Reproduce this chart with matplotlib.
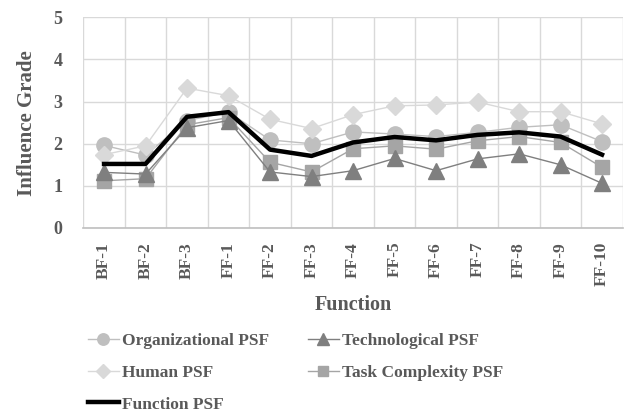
import matplotlib.pyplot as plt
import numpy as np

plt.rcParams['font.family'] = ['Liberation Serif', 'DejaVu Serif']
plt.rcParams['font.weight'] = 'bold'
plt.rcParams['axes.labelweight'] = 'bold'

# data
functions = ['BF-1', 'BF-2', 'BF-3', 'FF-1', 'FF-2', 'FF-3', 'FF-4',
             'FF-5', 'FF-6', 'FF-7', 'FF-8', 'FF-9', 'FF-10']
organizational = [1.96, 1.73, 2.55, 2.75, 2.09, 2.00, 2.28, 2.23, 2.17, 2.27, 2.39, 2.45, 2.05]
technological = [1.32, 1.28, 2.38, 2.55, 1.33, 1.22, 1.36, 1.65, 1.36, 1.64, 1.76, 1.50, 1.06]
human = [1.74, 1.95, 3.32, 3.14, 2.58, 2.36, 2.69, 2.90, 2.92, 2.99, 2.76, 2.76, 2.47]
task_complexity = [1.12, 1.17, 2.45, 2.62, 1.56, 1.33, 1.88, 1.95, 1.87, 2.07, 2.17, 2.03, 1.44]
function_psf = [1.52, 1.52, 2.64, 2.75, 1.86, 1.71, 2.03, 2.16, 2.08, 2.21, 2.27, 2.17, 1.74]

TEXT = '#595959'

fig = plt.figure(figsize=(6.31, 4.13), dpi=100)
ax = fig.add_axes([0.132, 0.448, 0.855, 0.51])

x = np.arange(len(functions))

h_org, = ax.plot(x, organizational, color='#BFBFBF', lw=1, marker='o', ms=11,
                 label='Organizational PSF', zorder=3)
h_hum, = ax.plot(x, human, color='#D9D9D9', lw=1, marker='D', ms=9,
                 label='Human PSF', zorder=3)
h_task, = ax.plot(x, task_complexity, color='#A5A5A5', lw=1, marker='s', ms=10,
                  label='Task Complexity PSF', zorder=4)
h_tech, = ax.plot(x, technological, color='#7F7F7F', lw=1, marker='^', ms=11,
                  label='Technological PSF', zorder=4)
h_fun, = ax.plot(x, function_psf, color='black', lw=3.2, label='Function PSF', zorder=5)

ax.set_xlim(-0.5, len(functions) - 0.5)
ax.set_ylim(0, 5)
ax.set_yticks(range(6))
ax.set_xticks(x)
ax.set_xticklabels(functions, rotation=90, fontsize=12.5, color=TEXT)
ax.set_xticks(np.arange(-0.5, len(functions)), minor=True)
ax.tick_params(axis='y', labelsize=13, colors=TEXT, length=0, pad=15)
ax.tick_params(axis='x', which='both', length=0, pad=10)
ax.grid(axis='x', which='minor', color='#D9D9D9', lw=1)
ax.grid(axis='y', which='major', color='#D9D9D9', lw=1)
ax.set_axisbelow(True)
for s in ['top', 'right', 'left']:
    ax.spines[s].set_visible(False)
ax.spines['bottom'].set_color('#BFBFBF')
ax.spines['bottom'].set_linewidth(1.2)

ax.set_ylabel('Influence Grade', fontsize=15, color=TEXT, labelpad=12)
ax.set_xlabel('Function', fontsize=14.5, color=TEXT, labelpad=6)

leg = fig.legend(handles=[h_org, h_hum, h_fun, h_tech, h_task], ncol=2,
                 loc='upper left', bbox_to_anchor=(0.128, 0.211), frameon=False,
                 fontsize=12.5, handlelength=1.8, handletextpad=0.2, markerscale=0.75,
                 columnspacing=2.2, labelspacing=0.9, borderaxespad=0)
for t in leg.get_texts():
    t.set_color(TEXT)

fig.savefig('out.png', dpi=100)
